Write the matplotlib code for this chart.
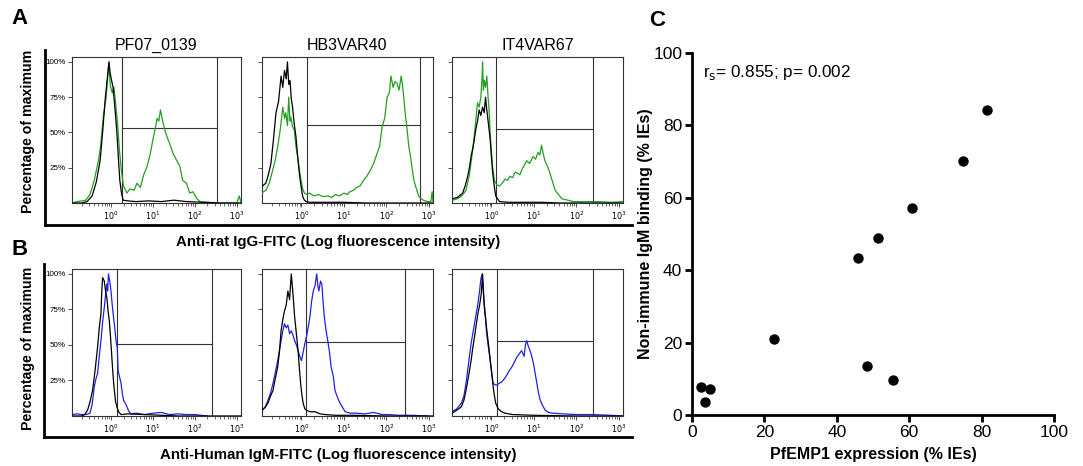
import numpy as np
import matplotlib
matplotlib.use('Agg')
import matplotlib.pyplot as plt; plt.ioff()

#==============================================================================
# Flow histograms, x in log10 fluorescence units, y in percentage of maximum.
#==============================================================================
titles = ['PF07_0139', 'HB3VAR40', 'IT4VAR67']

# Row A, anti-rat IgG (control in black, stained in green)
a1_ctl_x = [-0.93, -0.7, -0.57, -0.45, -0.35, -0.26, -0.2, -0.14, -0.09,
            -0.05, -0.02, 0.02, 0.05, 0.1, 0.14, 0.18, 0.21, 0.25, 0.29, 0.4,
            0.6, 0.9, 1.2, 1.5, 1.8, 2.2, 2.6, 3.1]
a1_ctl_y = [0, 0, 1, 5, 15, 30, 50, 73, 88, 100, 92, 86, 82, 65, 50, 30, 16,
            7, 2, 1.5, 1, 1.5, 1, 2, 1, 0.5, 0, 0]
a1_stn_x = [-0.93, -0.8, -0.6, -0.5, -0.4, -0.3, -0.25, -0.18, -0.12, -0.08,
            -0.05, -0.02, 0.03, 0.07, 0.12, 0.16, 0.2, 0.25, 0.3, 0.38, 0.45,
            0.55, 0.62, 0.7, 0.78, 0.86, 0.93, 1.0, 1.05, 1.1, 1.14, 1.18,
            1.24, 1.3, 1.36, 1.4, 1.48, 1.57, 1.64, 1.71, 1.8, 1.88, 1.95,
            2.05, 2.12, 2.3, 2.6, 3.0, 3.06, 3.1]
a1_stn_y = [0, 1, 2, 6, 16, 30, 40, 62, 74, 88, 100, 84, 78, 82, 68, 55, 38,
            22, 12, 7, 10, 9, 14, 11, 20, 26, 34, 45, 52, 60, 58, 66, 57, 50,
            45, 42, 35, 30, 26, 16, 14, 7, 8, 3, 1, 0.5, 0, 0, 5, 0]

a2_ctl_x = [-0.94, -0.84, -0.78, -0.72, -0.66, -0.6, -0.54, -0.48, -0.44,
            -0.4, -0.36, -0.33, -0.3, -0.27, -0.24, -0.21, -0.17, -0.13,
            -0.09, -0.05, -0.01, 0.03, 0.07, 0.11, 0.2, 0.5, 1.0, 1.5, 2.0,
            2.5, 3.1]
a2_ctl_y = [11.6, 14, 20, 28, 45, 64, 72, 90, 82, 94, 88, 100, 84, 87, 74,
            68, 56, 47, 33, 21, 12, 4.5, 2, 1, 0.5, 0.5, 0.5, 0, 0, 0, 0]
a2_stn_x = [-0.94, -0.84, -0.76, -0.68, -0.62, -0.56, -0.5, -0.44, -0.4,
            -0.37, -0.33, -0.3, -0.27, -0.25, -0.21, -0.17, -0.13, -0.09,
            -0.05, -0.01, 0.03, 0.07, 0.13, 0.19, 0.3, 0.4, 0.51, 0.62, 0.72,
            0.8, 0.9, 1.0, 1.08, 1.14, 1.22, 1.3, 1.38, 1.46, 1.54, 1.62, 1.7,
            1.78, 1.84, 1.9, 1.96, 2.02, 2.07, 2.11, 2.16, 2.2, 2.25, 2.3,
            2.35, 2.38, 2.41, 2.45, 2.49, 2.53, 2.57, 2.61, 2.65, 2.71, 2.77,
            2.87, 2.97, 3.05, 3.08, 3.1]
a2_stn_y = [7, 9, 14, 23, 30, 40, 52, 68, 60, 64, 55, 75, 58, 61, 54, 52, 40,
            33, 24, 16, 10, 7, 6, 7, 5, 6, 4.5, 5, 4, 6, 5, 7, 6, 8, 9, 11,
            12, 16, 19, 23, 28, 35, 40, 54, 60, 75, 78, 90, 82, 86, 85, 80,
            90, 84, 75, 62, 52, 40, 33, 24, 16, 10, 4.5, 2, 1, 1, 8, 1]

a3_ctl_x = [-0.92, -0.8, -0.68, -0.62, -0.56, -0.52, -0.48, -0.42, -0.37,
            -0.33, -0.29, -0.25, -0.21, -0.17, -0.14, -0.11, -0.09, -0.06,
            -0.03, 0.0, 0.03, 0.07, 0.1, 0.19, 0.4, 0.8, 1.2, 1.6, 2.0, 2.5,
            3.1]
a3_ctl_y = [3, 4, 7, 12, 19, 25, 33, 42, 52, 58, 66, 62, 68, 64, 75, 66, 61,
            53, 45, 32, 21, 11, 5, 1, 0.5, 0.5, 0.5, 0, 0, 0, 0]
a3_stn_x = [-0.92, -0.8, -0.7, -0.6, -0.52, -0.44, -0.38, -0.33, -0.29,
            -0.25, -0.22, -0.21, -0.19, -0.17, -0.14, -0.11, -0.08, -0.06,
            -0.03, -0.01, 0.03, 0.07, 0.12, 0.19, 0.25, 0.32, 0.38, 0.43, 0.5,
            0.56, 0.62, 0.67, 0.72, 0.78, 0.83, 0.9, 0.98, 1.04, 1.1, 1.14,
            1.18, 1.22, 1.26, 1.32, 1.38, 1.44, 1.5, 1.58, 1.66, 1.8, 1.94,
            2.2, 2.5, 2.8, 3.1]
a3_stn_y = [2, 3, 5, 9, 20, 38, 55, 71, 68, 75, 90, 100, 80, 87, 82, 90, 75,
            68, 50, 40, 25, 16, 13, 12, 14, 17, 16, 19, 18, 22, 21, 20, 24,
            27, 30, 28, 33, 31, 36, 34, 41, 35, 30, 26, 21, 15, 9, 6, 3, 2, 1,
            1, 1, 0.5, 1]

# Row B, anti-human IgM (control in black, stained in blue)
b1_ctl_x = [-0.93, -0.7, -0.63, -0.56, -0.5, -0.44, -0.38, -0.32, -0.28,
            -0.24, -0.22, -0.2, -0.16, -0.13, -0.1, -0.07, -0.04, -0.01, 0.02,
            0.05, 0.08, 0.11, 0.14, 0.18, 0.24, 0.4, 0.8, 1.2, 1.6, 2.0, 3.1]
b1_ctl_y = [0, 0, 1, 4, 10, 18, 32, 48.5, 62, 72, 88, 97.5, 95, 88, 83.6, 74,
            67, 55, 41.5, 28, 18, 10, 6.5, 3, 1, 1.5, 1, 0.5, 0, 0, 0]
b1_stn_x = [-0.93, -0.8, -0.7, -0.6, -0.5, -0.45, -0.4, -0.36, -0.32, -0.28,
            -0.24, -0.2, -0.16, -0.13, -0.1, -0.08, -0.06, -0.03, 0.0, 0.03,
            0.06, 0.09, 0.12, 0.15, 0.17, 0.2, 0.24, 0.27, 0.3, 0.34, 0.38,
            0.43, 0.48, 0.6, 0.8, 1.0, 1.2, 1.4, 1.6, 1.8, 2.0, 2.14, 2.3]
b1_stn_y = [1, 1.5, 1, 1, 2, 8, 20.5, 26, 30, 42, 53, 66, 76.6, 85, 93, 88,
            100, 95, 88, 78, 69.6, 62, 53, 48, 32, 28, 23, 16, 11, 9, 6.5, 3,
            1.5, 2, 1, 2, 2.5, 1, 1.5, 1, 1, 0.5, 0]

b2_ctl_x = [-0.93, -0.86, -0.79, -0.73, -0.67, -0.62, -0.56, -0.52, -0.48,
            -0.44, -0.4, -0.36, -0.32, -0.28, -0.24, -0.2, -0.16, -0.12,
            -0.08, -0.05, -0.02, 0.01, 0.04, 0.08, 0.12, 0.2, 0.32, 0.44,
            0.56, 0.8, 1.2, 2.0, 3.1]
b2_ctl_y = [4, 6, 9, 14, 18, 26, 34.5, 45, 60, 68, 74, 78, 88, 82, 100, 86,
            69.6, 58, 46, 34, 23, 15, 9, 5, 4, 3, 3, 1.5, 1, 0.5, 0.5, 0, 0]
b2_stn_x = [-0.93, -0.86, -0.79, -0.73, -0.67, -0.62, -0.56, -0.52, -0.48,
            -0.44, -0.4, -0.36, -0.32, -0.28, -0.24, -0.2, -0.16, -0.12,
            -0.08, -0.04, 0.0, 0.04, 0.08, 0.12, 0.16, 0.2, 0.24, 0.28, 0.32,
            0.36, 0.39, 0.41, 0.45, 0.48, 0.51, 0.54, 0.58, 0.62, 0.66, 0.7,
            0.75, 0.79, 0.85, 0.91, 0.97, 1.03, 1.15, 1.27, 1.5, 1.7, 1.9,
            2.06, 2.3, 2.6, 3.0]
b2_stn_y = [4, 6, 11, 16, 23, 30, 39, 46, 53, 60, 65, 62, 64, 58, 60, 57, 53,
            50, 46, 42, 39, 45, 51, 56, 62.6, 70, 81, 88, 92, 100, 91, 88, 95,
            93, 80, 69.6, 60, 53, 45, 34.5, 28, 18, 13, 9, 6, 3, 2, 2, 1.5,
            2.5, 1, 1, 0.5, 0.5, 0]

b3_ctl_x = [-0.93, -0.82, -0.71, -0.65, -0.6, -0.54, -0.48, -0.44, -0.4,
            -0.36, -0.32, -0.28, -0.24, -0.21, -0.18, -0.16, -0.13, -0.1,
            -0.06, -0.02, 0.02, 0.06, 0.1, 0.16, 0.24, 0.32, 0.5, 1.0, 2.0,
            3.1]
b3_ctl_y = [2, 4, 6.5, 11, 18, 28, 39, 48, 55.5, 64, 72, 78, 86, 100, 82, 74,
            66, 58, 48, 37, 26, 16, 9, 5, 3, 2, 1, 0.5, 0, 0]
b3_stn_x = [-0.93, -0.82, -0.71, -0.65, -0.6, -0.54, -0.48, -0.44, -0.4,
            -0.36, -0.32, -0.28, -0.25, -0.22, -0.19, -0.17, -0.14, -0.12,
            -0.08, -0.04, 0.0, 0.04, 0.08, 0.12, 0.18, 0.24, 0.3, 0.36, 0.42,
            0.48, 0.54, 0.6, 0.66, 0.71, 0.77, 0.8, 0.83, 0.87, 0.91, 0.95,
            0.99, 1.03, 1.07, 1.11, 1.15, 1.21, 1.27, 1.35, 1.43, 1.7, 2.0,
            2.4, 2.8, 3.1]
b3_stn_y = [3, 5, 9, 14, 23, 37, 51, 58, 65, 72, 79, 88, 96.5, 100, 88, 79,
            70, 60, 50, 41.5, 32, 23, 22, 21.7, 23, 24, 26, 28.7, 32, 34.5, 38,
            41.5, 44, 46, 42, 50, 53, 49, 46, 42, 37, 30, 23, 16, 11, 7, 4,
            2.5, 2, 1.5, 1, 1, 0.5, 0]

# gates: left and right bounds (log10) and the horizontal marker (%)
gate_a_lo = [0.26, 0.12, 0.11]
gate_a_hi = [2.52, 2.79, 2.39]
gate_a_mid = [53, 55, 52.5]
gate_b_lo = [0.14, 0.10, 0.12]
gate_b_hi = [2.40, 2.44, 2.39]
gate_b_mid = [50.5, 52, 52.8]

#==============================================================================
# Scatter, panel C
#==============================================================================
pfemp1_expr = [81.5, 74.9, 60.7, 51.5, 45.8, 22.6, 48.4, 55.4, 2.4, 5.1, 3.7]
igm_binding = [84.3, 70.1, 57.1, 48.8, 43.5, 21.1, 13.6, 9.6, 7.8, 7.1, 3.5]
corr_text = r'r$_{\mathrm{s}}$= 0.855; p= 0.002'

W, H = 1083, 466


def px_axes(fig, x0, y0, x1, y1, **kwargs):
    return fig.add_axes(
        [x0 / W, 1 - y1 / H, (x1 - x0) / W, (y1 - y0) / H], **kwargs)


def style_hist(ax, show_ylabels):

    ax.set_xlim(-0.93, 3.1)
    ax.set_ylim(0, 103.5)

    for sp in ax.spines.values():
        sp.set_linewidth(0.8)
        sp.set_color('#333333')

    ax.set_xticks([0, 1, 2, 3])
    ax.set_xticklabels([r'$10^{%d}$' % i for i in range(4)])
    minor = [np.log10(m) + k for k in range(-1, 4) for m in range(2, 10)]
    minor = [v for v in minor if -0.93 <= v <= 3.1]
    ax.set_xticks(minor, minor=True)

    ax.set_yticks([25, 50, 75, 100])
    if show_ylabels:
        ax.set_yticklabels(['25%', '50%', '75%', '100%'])
    else:
        ax.set_yticklabels([])

    ax.tick_params(axis='both', which='major', length=3, width=0.6,
                   labelsize=5.8, pad=1.5, color='#333333')
    ax.tick_params(axis='x', which='minor', length=1.8, width=0.5,
                   color='#333333')
    return


def main():

    plt.rcParams['font.family'] = ['Liberation Sans', 'DejaVu Sans']

    fig = plt.figure(figsize=(W / 100, H / 100), dpi=100)

    col_x = [(72, 241), (262, 433), (452, 623)]

    rows = [
        dict(y=(57, 203), col='#22a022',
             ctl=[(a1_ctl_x, a1_ctl_y), (a2_ctl_x, a2_ctl_y),
                  (a3_ctl_x, a3_ctl_y)],
             stn=[(a1_stn_x, a1_stn_y), (a2_stn_x, a2_stn_y),
                  (a3_stn_x, a3_stn_y)],
             lo=gate_a_lo, hi=gate_a_hi, mid=gate_a_mid,
             frame=(45, 50, 632, 225), ylab_y=131, xlab_y=242,
             xlab='Anti-rat IgG-FITC (Log fluorescence intensity)'),
        dict(y=(269, 416), col='#2020e8',
             ctl=[(b1_ctl_x, b1_ctl_y), (b2_ctl_x, b2_ctl_y),
                  (b3_ctl_x, b3_ctl_y)],
             stn=[(b1_stn_x, b1_stn_y), (b2_stn_x, b2_stn_y),
                  (b3_stn_x, b3_stn_y)],
             lo=gate_b_lo, hi=gate_b_hi, mid=gate_b_mid,
             frame=(44, 264, 632, 437), ylab_y=348, xlab_y=455,
             xlab='Anti-Human IgM-FITC (Log fluorescence intensity)'),
    ]

    for r_i, row in enumerate(rows):

        # outer L-frame of the row
        fx0, fy0, fx1, fy1 = row['frame']
        frame_ax = px_axes(fig, fx0, fy0, fx1, fy1)
        frame_ax.patch.set_alpha(0)
        for side in ['top', 'right']:
            frame_ax.spines[side].set_visible(False)
        for side in ['left', 'bottom']:
            frame_ax.spines[side].set_linewidth(2)
        frame_ax.set_xticks([])
        frame_ax.set_yticks([])

        fig.text(28 / W, 1 - row['ylab_y'] / H, 'Percentage of maximum',
                 rotation=90, ha='center', va='center', fontsize=10.2,
                 fontweight='bold')
        fig.text(338 / W, 1 - row['xlab_y'] / H, row['xlab'],
                 ha='center', va='center', fontsize=10.8, fontweight='bold')

        for c_i in range(3):
            x0, x1 = col_x[c_i]
            y0, y1 = row['y']
            ax = px_axes(fig, x0, y0, x1, y1)

            cx, cy = row['ctl'][c_i]
            sx, sy = row['stn'][c_i]

            ax.plot(sx, sy, c=row['col'], lw=0.9, zorder=3)
            ax.plot(cx, cy, c='k', lw=0.9, zorder=4)

            lo, hi, mid = row['lo'][c_i], row['hi'][c_i], row['mid'][c_i]
            ax.axvline(lo, c='#333333', lw=0.8, zorder=2)
            ax.axvline(hi, c='#333333', lw=0.8, zorder=2)
            ax.plot([lo, hi], [mid, mid], c='#333333', lw=0.8, zorder=2)

            style_hist(ax, c_i == 0)

            if r_i == 0:
                ax.set_title(titles[c_i], fontsize=11.5, pad=5)

    #==========================================================================
    # Panel C
    #==========================================================================
    ax_c = px_axes(fig, 692, 53, 1054, 415)

    ax_c.scatter(pfemp1_expr, igm_binding, s=42, c='k', zorder=3,
                 clip_on=False)

    ax_c.set_xlim(0, 100)
    ax_c.set_ylim(0, 100)
    ax_c.set_xticks(range(0, 101, 20))
    ax_c.set_yticks(range(0, 101, 20))

    for side in ['top', 'right']:
        ax_c.spines[side].set_visible(False)
    for side in ['left', 'bottom']:
        ax_c.spines[side].set_linewidth(2)

    ax_c.tick_params(length=5, width=2, labelsize=12.5, pad=2)

    ax_c.set_xlabel('PfEMP1 expression (% IEs)', fontsize=11.5,
                    fontweight='bold', labelpad=5)
    ax_c.set_ylabel('Non-immune IgM binding (% IEs)', fontsize=11.5,
                    fontweight='bold', labelpad=0)

    ax_c.text(3, 94.5, corr_text, fontsize=12.3, ha='left', va='center')

    #==========================================================================
    # Panel letters
    #==========================================================================
    for lbl, lx, ly in [('A', 20, 18), ('B', 20, 250), ('C', 657, 20)]:
        fig.text(lx / W, 1 - ly / H, lbl, fontsize=16, fontweight='bold',
                 ha='center', va='center')

    plt.savefig('out.png', dpi=100)
    plt.close()
    return


if __name__ == '__main__':
    main()
